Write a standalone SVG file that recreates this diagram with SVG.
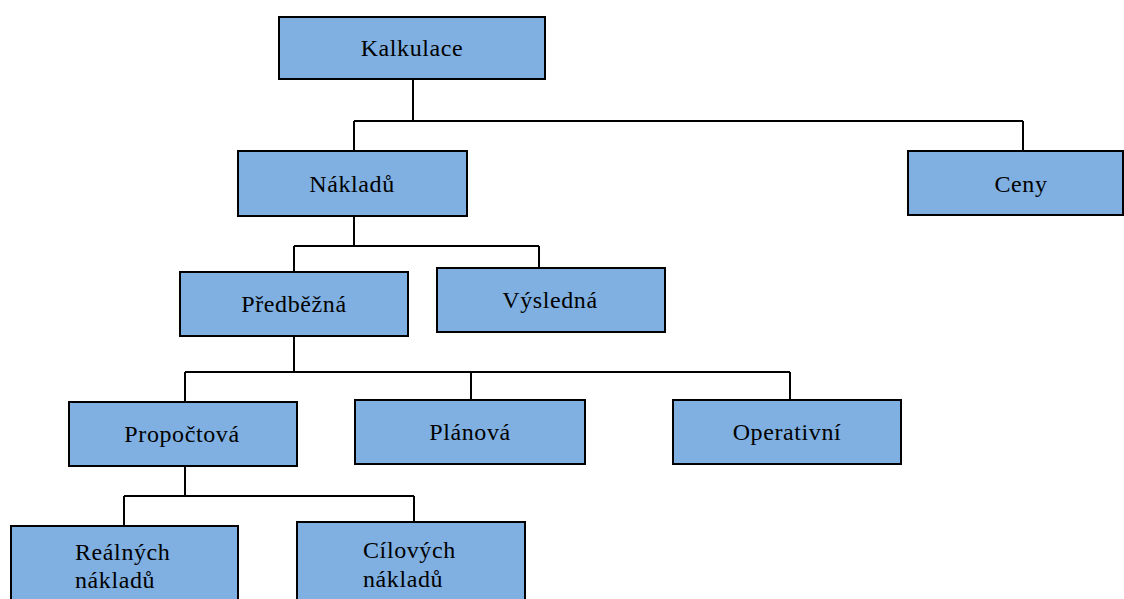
<svg xmlns="http://www.w3.org/2000/svg" width="1124" height="599" viewBox="0 0 1124 599">
<style>
.box{fill:#7fb0e1;stroke:#000;stroke-width:2}
.lbl{font-family:"Liberation Serif","Times New Roman",serif;font-size:24px;letter-spacing:0.6px;fill:#000;text-anchor:middle}
.lft{text-anchor:start}
.con{fill:none;stroke:#000;stroke-width:2}
</style>
<rect width="1124" height="599" fill="#fff"/>
<g id="connectors">
<path class="con" d="M413 79V121M354 121H1023M354 121V151M1023 121V151"/>
<path class="con" d="M354 216V246M294 246H539M294 246V272M539 246V268"/>
<path class="con" d="M294 336V372M185 372H790M185 372V402M471 372V400M790 372V400"/>
<path class="con" d="M185 466V496M124 496H414M124 496V526M414 496V522"/>
</g>
<g id="kalkulace"><rect class="box" x="279" y="17" width="266" height="62"/><text class="lbl" x="412" y="56">Kalkulace</text></g>
<g id="nakladu"><rect class="box" x="238" y="151" width="229" height="65"/><text class="lbl" x="352" y="192">Nákladů</text></g>
<g id="ceny"><rect class="box" x="908" y="151" width="215" height="64"/><text class="lbl" x="1021" y="192">Ceny</text></g>
<g id="predbezna"><rect class="box" x="180" y="272" width="228" height="64"/><text class="lbl" x="294" y="312">Předběžná</text></g>
<g id="vysledna"><rect class="box" x="437" y="268" width="228" height="64"/><text class="lbl" x="550" y="308">Výsledná</text></g>
<g id="propoctova"><rect class="box" x="69" y="402" width="228" height="64"/><text class="lbl" x="182" y="442">Propočtová</text></g>
<g id="planova"><rect class="box" x="355" y="400" width="230" height="64"/><text class="lbl" x="470" y="440">Plánová</text></g>
<g id="operativni"><rect class="box" x="673" y="400" width="228" height="64"/><text class="lbl" x="787" y="440">Operativní</text></g>
<g id="realnych"><rect class="box" x="11" y="526" width="227" height="80"/><text class="lbl lft" x="75" y="560">Reálných</text><text class="lbl lft" x="75" y="588">nákladů</text></g>
<g id="cilovych"><rect class="box" x="297" y="522" width="228" height="84"/><text class="lbl lft" x="363" y="558">Cílových</text><text class="lbl lft" x="363" y="587">nákladů</text></g>
</svg>
